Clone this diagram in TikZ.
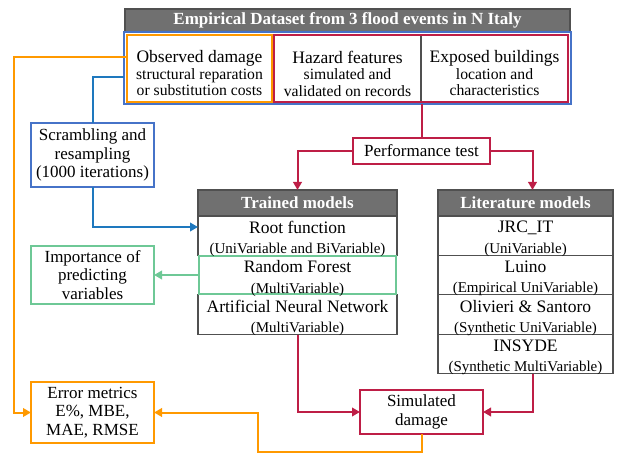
\documentclass[tikz,border=0pt]{standalone}
\usepackage{fontspec}
\setmainfont{Liberation Serif}
\usetikzlibrary{arrows.meta,calc}
\definecolor{cOr}{RGB}{255,153,0}
\definecolor{cRed}{RGB}{190,30,70}
\definecolor{cBlueBox}{RGB}{70,115,200}
\definecolor{cBlueLn}{RGB}{30,120,190}
\definecolor{cGreen}{RGB}{110,200,150}
\definecolor{cGray}{RGB}{112,112,112}
\definecolor{cEdge}{RGB}{80,80,80}
\newcommand\mytxtA{\fontsize{17}{18.5}\selectfont}
\newcommand\mytxtM{\fontsize{17.5}{19}\selectfont}
\newcommand\mytxtB{\fontsize{15}{20.5}\selectfont}
\newcommand\mytxtC{\fontsize{15.7}{16.5}\selectfont}
\newcommand\mytxtH{\fontsize{17}{18}\selectfont\bfseries}
\begin{document}
\begin{tikzpicture}[x=1pt,y=-1pt,
  every node/.style={inner sep=0pt, outer sep=0pt, align=center},
  hdrbox/.style={draw=cEdge, fill=cGray, line width=1.2pt, text=white, font=\mytxtH},
  rowbox/.style={draw=cEdge, line width=1.2pt},
  rowtxt/.style={font=\mytxtB},
  dsbox/.style={font=\mytxtC},
  orbox/.style={draw=cOr, line width=2pt, font=\mytxtC},
  redbox/.style={draw=cRed, line width=2pt, font=\mytxtA},
  bluebox/.style={draw=cBlueBox, line width=1.8pt, font=\mytxtA},
  grbox/.style={draw=cGreen, line width=2pt, font=\mytxtA},
  tip/.style={-{Triangle[length=8pt,width=8.5pt]}},
  redln/.style={draw=cRed, line width=2pt},
  orln/.style={draw=cOr, line width=2pt},
  blln/.style={draw=cBlueLn, line width=2pt},
  grln/.style={draw=cGreen, line width=2pt}
]
\useasboundingbox (0,0) rectangle (618,457);

% Dataset
\node[hdrbox, minimum width=445pt, minimum height=23pt] (hdr) at (347.5,20.5) {Empirical Dataset from 3 flood events in N Italy};
\node[draw=cBlueBox, line width=2pt, minimum width=447pt, minimum height=72pt] (dsout) at (347.5,68) {};
\node[dsbox] (haz) at (347.5,73.5)
  {\mytxtM Hazard features\\simulated and\\validated on records};
\node[dsbox] (exp) at (494.5,73.5)
  {\mytxtM Exposed buildings\\location and\\characteristics};
\draw[cEdge, line width=1.2pt] (421,35) -- (421,102);
\node[draw=cRed, line width=2pt, minimum width=294pt, minimum height=67pt] (hazexp) at (421,68.5) {};
\node[orbox, minimum width=145pt, minimum height=67pt] (obs) at (199.5,68.5) {};
\node[dsbox] (obstxt) at (199.5,73.5)
  {\mytxtM Observed damage\\structural reparation\\or substitution costs};

% Performance test
\node[redbox, minimum width=137pt, minimum height=26pt] (perf) at (421.5,151) {Performance test};

% Trained models
\node[hdrbox, minimum width=199pt, minimum height=26pt] (thd) at (297.5,203) {Trained models};
\node[rowbox, minimum width=199pt, minimum height=39.5pt] (root) at (297.5,235.5) {};
\node[rowbox, minimum width=199pt, minimum height=40pt] (ann) at (297.5,314.5) {};
\node[grbox, minimum width=197pt, minimum height=38pt] (rf) at (297.5,275) {};
\node[rowtxt] (rootT) at ($(root.center)+(0,3.5)$) {\mytxtM Root function\\(UniVariable and BiVariable)};
\node[rowtxt] (rfT) at ($(rf.center)+(0,3.5)$) {\mytxtM Random Forest\\(MultiVariable)};
\node[rowtxt] (annT) at ($(ann.center)+(0,3.5)$) {\mytxtM Artificial Neural Network\\(MultiVariable)};

% Literature models
\node[hdrbox, minimum width=175pt, minimum height=26pt] (lhd) at (525.5,203) {Literature models};
\node[rowbox, minimum width=175pt, minimum height=39.5pt] (jrc) at (525.5,235.5) {};
\node[rowbox, minimum width=175pt, minimum height=39.5pt] (lui) at (525.5,275) {};
\node[rowbox, minimum width=175pt, minimum height=39.5pt] (oli) at (525.5,314.5) {};
\node[rowbox, minimum width=175pt, minimum height=39.5pt] (ins) at (525.5,354) {};
\node[rowtxt] (jrcT) at ($(jrc.center)+(0,3.5)$) {\mytxtM JRC\_IT\\(UniVariable)};
\node[rowtxt] (luiT) at ($(lui.center)+(0,3.5)$) {\mytxtM Luino\\(Empirical UniVariable)};
\node[rowtxt] (oliT) at ($(oli.center)+(0,3.5)$) {\mytxtM Olivieri \& Santoro\\(Synthetic UniVariable)};
\node[rowtxt] (insT) at ($(ins.center)+(0,3.5)$) {\mytxtM INSYDE\\(Synthetic MultiVariable)};

% Side boxes
\node[bluebox, minimum width=123pt, minimum height=64pt] (scr) at (92.5,155)
  {Scrambling and\\resampling\\(1000 iterations)};
\node[grbox, minimum width=123pt, minimum height=58pt] (imp) at (92.5,275)
  {Importance of\\predicting\\variables};
\node[orbox, font=\mytxtA, minimum width=123pt, minimum height=61pt] (err) at (92.5,412.5)
  {Error metrics\\E\%, MBE,\\MAE, RMSE};
\node[redbox, minimum width=123pt, minimum height=44pt] (sim) at (421.5,412)
  {Simulated\\damage};

% Connectors
\coordinate (bIn) at (124,77);
\coordinate (oIn) at (126,57);
\coordinate (rootIn) at (198,227);
\draw[blln] (bIn) -| (scr.north);
\draw[blln, tip] (scr.south) |- (rootIn);
\draw[grln, tip] (rf.west) -- (imp.east);
\draw[orln, tip] (oIn) -| (14,412.5) -- (err.west);
\draw[orln, tip] (sim.south) |- ++(-164,18) |- (err.east);
\draw[redln] (perf.north) -- (perf.north |- dsout.south);
\draw[redln, tip] (perf.west) -| (thd.north);
\draw[redln, tip] (perf.east) -| ($(lhd.north)+(7,0)$);
\draw[redln, tip] (ann.south) |- (sim.west);
\draw[redln, tip] ($(ins.south)+(7,0)$) |- (sim.east);
\end{tikzpicture}
\end{document}
